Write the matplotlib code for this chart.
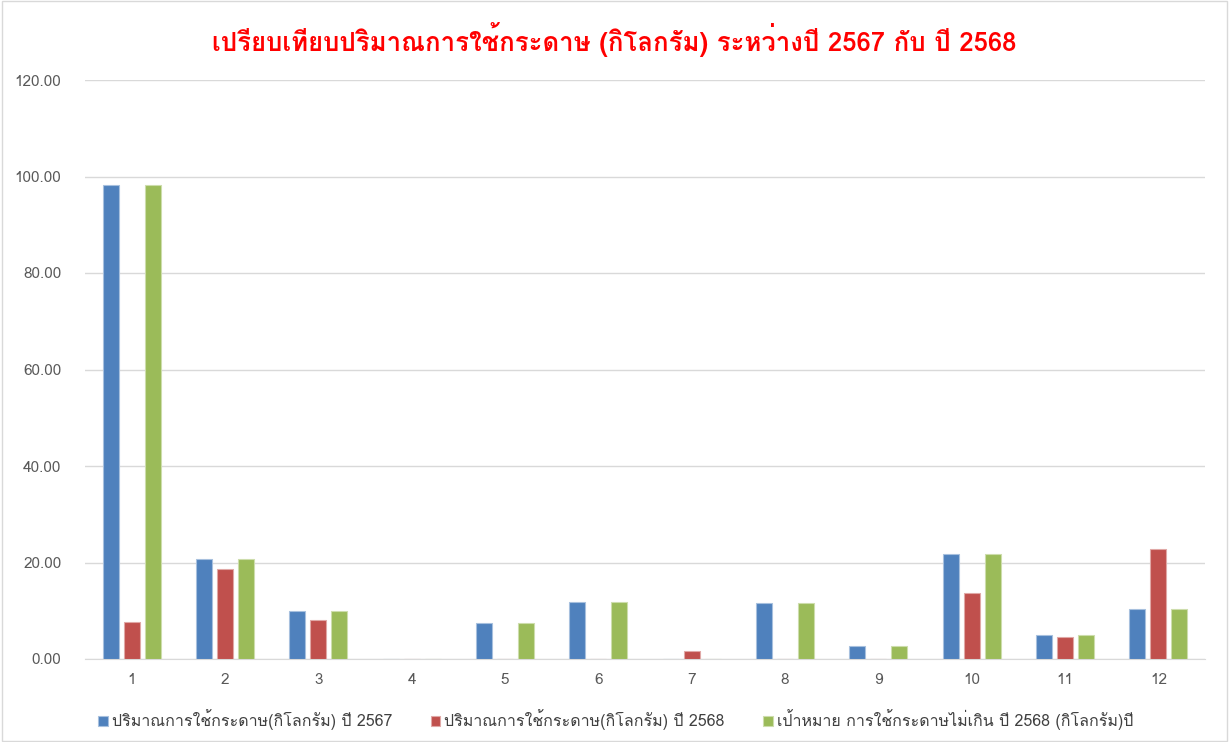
import matplotlib
matplotlib.use('Agg')
import matplotlib.pyplot as plt
import numpy as np

months = ['1', '2', '3', '4', '5', '6', '7', '8', '9', '10', '11', '12']
use_2567 = [98.2, 20.7, 9.85, 0, 7.45, 11.9, 0, 11.6, 2.75, 21.8, 4.97, 10.35]
use_2568 = [7.6, 18.7, 8.0, 0, 0, 0, 1.7, 0, 0, 13.65, 4.55, 22.76]
target_2568 = [98.2, 20.7, 9.85, 0, 7.45, 11.9, 0, 11.6, 2.75, 21.8, 4.97, 10.35]

labels = ['ปริมาณการใช้กระดาษ(กิโลกรัม) ปี 2567',
          'ปริมาณการใช้กระดาษ(กิโลกรัม) ปี 2568',
          'เป้าหมาย การใช้กระดาษไม่เกิน ปี 2568 (กิโลกรัม)ปี']
title = 'เปรียบเทียบปริมาณการใช้กระดาษ (กิโลกรัม) ระหว่างปี 2567 กับ ปี 2568'

plt.rcParams['font.family'] = ['Loma', 'Noto Sans Thai Looped', 'DejaVu Sans']

fig = plt.figure(figsize=(12.29, 7.42), dpi=100)
ax = fig.add_axes([85/1229, 1-659/742, 1120/1229, 579/742])

x = np.arange(len(months))
w = 0.171
step = 0.225
colors = ['#4F81BD', '#C0504D', '#9BBB59']
edges = ['#A7C0DE', '#E0A8A6', '#CDDDAC']
for i, vals in enumerate([use_2567, use_2568, target_2568]):
    ax.bar(x + (i - 1) * step, vals, w, color=colors[i], edgecolor=edges[i],
           linewidth=0.8, label=labels[i], zorder=3)

ax.set_xlim(-0.5, 11.5)
ax.set_ylim(0, 120)
ax.set_yticks(np.arange(0, 121, 20))
ax.set_yticklabels(['%.2f' % v for v in np.arange(0, 121, 20)])
ax.set_xticks(x)
ax.set_xticklabels(months)
ax.grid(axis='y', color='#D9D9D9', linewidth=1, zorder=0)
for s in ['top', 'right', 'left']:
    ax.spines[s].set_visible(False)
ax.spines['bottom'].set_color('#D9D9D9')
ax.tick_params(axis='both', length=0, colors='#595959', labelsize=11)
ax.tick_params(axis='y', pad=17)
ax.tick_params(axis='x', pad=10)

fig.suptitle(title, color='#FF0000', fontsize=18.5, fontweight='bold',
             y=1-40/742, va='center')
fig.legend(loc='center left', bbox_to_anchor=(84/1229, 1-720/742), ncol=3,
           frameon=False, fontsize=11.5, handlelength=0.6, handleheight=0.6,
           handletextpad=0.25, columnspacing=2.4, labelcolor='#404040')

fig.add_artist(plt.Rectangle((0.002, 0.002), 0.996, 0.996, transform=fig.transFigure,
                             fill=False, edgecolor='#D9D9D9', linewidth=1))

fig.savefig('out.png', dpi=100)
